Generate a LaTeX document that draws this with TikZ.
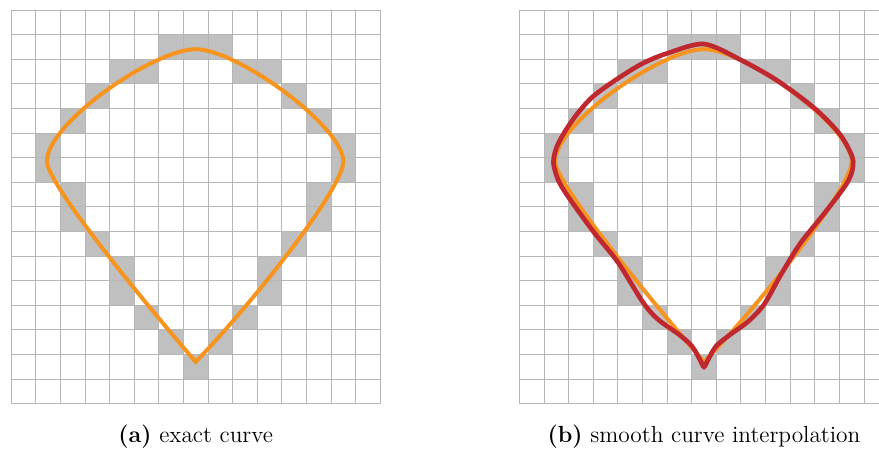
\documentclass[tikz,border=0pt]{standalone}
\usepackage{xcolor}
\usepackage{tikz}

\definecolor{exactorange}{RGB}{247,148,30}
\definecolor{smoothred}{RGB}{192,40,48}
\definecolor{cellgray}{RGB}{192,192,192}
\definecolor{linegray}{RGB}{182,182,182}

\begin{document}
\begin{tikzpicture}[
    x=0.5cm, y=0.5cm,
    gridline/.style={draw=linegray, line width=0.5pt},
    pixel/.style={fill=cellgray},
    exact/.style={draw=exactorange, line width=2.3pt},
    smoothfit/.style={draw=smoothred, line width=2.7pt},
    caption/.style={anchor=base, font=\fontsize{13.5}{15}\selectfont}
]
\useasboundingbox (-0.455,-1.83) rectangle (35.272,16.41);
\clip (-0.455,-1.83) rectangle (35.272,16.41);

% both panels: pixels, grid, exact curve
\foreach \px in {0,20.66} {
  \begin{scope}[shift={(\px,0)}]
    \foreach \c/\r in {6/14,7/14,8/14, 4/13,5/13,9/13,10/13, 3/12,11/12, 2/11,12/11,
                       1/10,13/10, 1/9,13/9, 2/8,12/8, 2/7,12/7, 3/6,11/6,
                       4/5,10/5, 4/4,10/4, 5/3,9/3, 6/2,8/2, 7/1}
      \fill[pixel] (\c,\r) rectangle ++(1,1);
    \foreach \i in {0,...,15}
      \draw[gridline] (\i,0) -- (\i,16);
    \foreach \j in {0,...,16}
      \draw[gridline] (0,\j) -- (15,\j);
    \draw[exact] (7.5,14.41) .. controls (5.8,14.41) and (1.45,11.4) .. (1.45,9.85)
      .. controls (1.45,9.0) and (5.0,4.6) .. (7.5,1.7)
      .. controls (10.0,4.3) and (13.5,8.8) .. (13.5,9.85)
      .. controls (13.5,11.25) and (9.2,14.41) .. (7.5,14.41) -- cycle;
  \end{scope}
}

% interpolated curve
\begin{scope}[shift={(20.66,0)}]
  \draw[smoothfit] plot[smooth cycle, tension=0.5] coordinates {
    (7.5,14.62) (9,13.97) (10.5,13.12) (12,12.0) (13,10.98) (13.5,10.1)
    (13.55,9.6) (13.3,8.95) (12.4,7.75) (11.4,6.5) (10.6,5.2) (9.95,4.05)
    (9.3,3.35) (8.55,2.8) (8.0,2.35) (7.67,1.8) (7.5,1.5) (7.33,1.8)
    (7.0,2.35) (6.5,2.8) (5.6,3.45) (5.0,4.15) (4.0,5.75) (3.0,7.0) (1.99,8.4)
    (1.58,9.08) (1.38,9.8) (1.52,10.45) (1.9,11.15) (2.4,11.85) (3.0,12.5)
    (4.0,13.22) (5.0,13.83) (6.0,14.24)};
\end{scope}

\node[caption] (capa) at (7.5,-1.58) {\textbf{(a)} exact curve};
\node[caption] (capb) at (28.16,-1.58) {\textbf{(b)} smooth curve interpolation};
\end{tikzpicture}
\end{document}
